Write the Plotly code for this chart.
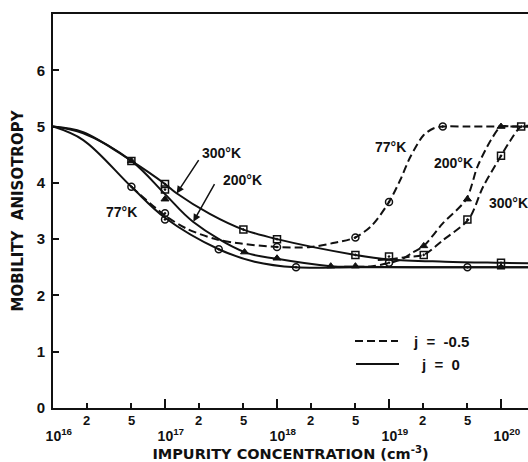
import math
import plotly.graph_objects as go

# ---- data (log10 of impurity concentration, mobility anisotropy) ----
s77_logx = [16.0, 16.27, 16.7, 17.0, 17.48, 17.8, 18.17, 18.7, 19.7, 20.3]
s77_y    = [5.0, 4.76, 3.93, 3.38, 2.82, 2.60, 2.50, 2.50, 2.50, 2.50]
s200_logx = [16.0, 16.27, 16.7, 17.0, 17.25, 17.71, 18.0, 18.48, 18.7, 19.5, 20.3]
s200_y    = [5.0, 4.88, 4.39, 3.80, 3.31, 2.77, 2.65, 2.52, 2.51, 2.50, 2.50]
s300_logx = [16.0, 16.27, 16.7, 17.0, 17.1, 17.4, 17.7, 18.0, 18.7, 19.0, 19.5, 20.0, 20.3]
s300_y    = [5.0, 4.90, 4.39, 3.98, 3.82, 3.45, 3.17, 3.00, 2.72, 2.64, 2.60, 2.58, 2.57]

d77_logx = [16.7, 17.0, 17.2, 17.45, 17.64, 18.0, 18.3, 18.5, 18.7, 18.85, 19.0, 19.1, 19.19, 19.31, 19.4, 19.48, 19.7, 20.3]
d77_y    = [3.93, 3.42, 3.18, 3.00, 2.93, 2.86, 2.86, 2.93, 3.03, 3.25, 3.66, 4.05, 4.46, 4.85, 4.97, 5.0, 5.0, 5.0]
d200_logx = [18.6, 18.85, 19.1, 19.21, 19.31, 19.48, 19.69, 19.79, 19.91, 20.0, 20.1, 20.3]
d200_y    = [2.51, 2.52, 2.63, 2.76, 2.88, 3.28, 3.71, 4.29, 4.76, 5.0, 5.0, 5.0]
d300_logx = [18.9, 19.0, 19.15, 19.31, 19.48, 19.71, 19.84, 20.0, 20.08, 20.18, 20.3]
d300_y    = [2.63, 2.64, 2.68, 2.72, 2.98, 3.35, 3.93, 4.48, 4.74, 5.0, 5.0]

m77_logx = [16.7, 17.0, 17.0, 17.48, 18.0, 18.17, 18.7, 19.0, 19.0, 19.48, 19.7]
m77_y    = [3.93, 3.35, 3.46, 2.82, 2.86, 2.50, 3.03, 3.66, 2.58, 5.0, 2.50]
m200_logx = [16.7, 17.0, 17.71, 18.0, 18.48, 18.7, 19.31, 19.7, 20.0, 20.0]
m200_y    = [4.39, 3.71, 2.77, 2.66, 2.52, 2.52, 2.88, 3.71, 5.0, 2.50]
m300_logx = [16.7, 17.0, 17.0, 17.7, 18.0, 18.7, 19.0, 19.31, 19.7, 20.0, 20.0, 20.18]
m300_y    = [4.39, 3.98, 3.88, 3.17, 3.00, 2.72, 2.69, 2.72, 3.35, 4.48, 2.58, 5.0]

decades = [16, 17, 18, 19, 20]
minor_mult = [2, 5]
y_ticks = [0, 1, 2, 3, 4, 5, 6]

FONT = "Liberation Sans"
TFONT = "DejaVu Sans"
BLACK = "#111111"
NB = "\u00a0"

def X(v):
    return [10.0 ** float(a) for a in v]

fig = go.Figure()

for lx, yy in [(s77_logx, s77_y), (s200_logx, s200_y), (s300_logx, s300_y)]:
    fig.add_trace(go.Scatter(x=X(lx), y=yy, mode="lines",
                             line=dict(color=BLACK, width=2, shape="spline", smoothing=1.0),
                             showlegend=False, hoverinfo="skip"))
for lx, yy in [(d77_logx, d77_y), (d200_logx, d200_y), (d300_logx, d300_y)]:
    fig.add_trace(go.Scatter(x=X(lx), y=yy, mode="lines",
                             line=dict(color=BLACK, width=2, shape="spline", smoothing=0.8, dash="8px,4px"),
                             showlegend=False, hoverinfo="skip"))

fig.add_trace(go.Scatter(x=X(m77_logx), y=m77_y, mode="markers",
                         marker=dict(symbol="circle-open-dot", size=7, color=BLACK, line=dict(width=1.5, color=BLACK)),
                         showlegend=False))
fig.add_trace(go.Scatter(x=X(m200_logx), y=m200_y, mode="markers",
                         marker=dict(symbol="triangle-up", size=7, color=BLACK, line=dict(width=1, color=BLACK)),
                         showlegend=False))
fig.add_trace(go.Scatter(x=X(m300_logx), y=m300_y, mode="markers",
                         marker=dict(symbol="square-open-dot", size=7, color=BLACK, line=dict(width=1.5, color=BLACK)),
                         showlegend=False))

tickfont = dict(family=FONT, size=14, color=BLACK, weight="bold")
fig.update_xaxes(
    type="log", range=[16, 20.241],
    showline=True, linecolor=BLACK, linewidth=2, mirror=True,
    showgrid=False, zeroline=False,
    tickmode="array", tickvals=[10.0 ** d for d in decades],
    ticktext=[NB * 3 + "10<sup>%d</sup>" % d for d in decades],
    ticks="inside", ticklen=9, tickwidth=1.5, tickcolor=BLACK,
    tickfont=tickfont, ticklabelstandoff=14,
    minor=dict(tickvals=[m * 10.0 ** d for d in decades[:-1] for m in minor_mult],
               ticks="inside", ticklen=5, tickwidth=1.5, tickcolor=BLACK),
    title=dict(text="IMPURITY CONCENTRATION (cm<sup>-3</sup>)",
               font=dict(family=TFONT, size=14.5, color=BLACK, weight="bold"), standoff=5),
)
fig.update_yaxes(
    range=[0, 7], showline=True, linecolor=BLACK, linewidth=2, mirror=False,
    showgrid=False, zeroline=False,
    tickmode="array", tickvals=y_ticks,
    ticks="inside", ticklen=6, tickwidth=1.5, tickcolor=BLACK,
    tickfont=dict(family=FONT, size=15, color=BLACK, weight="bold"), ticklabelstandoff=3,
    title=dict(text="MOBILITY" + NB * 2 + "ANISOTROPY",
               font=dict(family=TFONT, size=15, color=BLACK, weight="bold"), standoff=9),
)

ann = []
# minor tick labels 2 and 5
for d in decades[:-1]:
    for m in minor_mult:
        ann.append(dict(x=d + math.log10(m), y=0, xref="x", yref="paper", text=str(m),
                        showarrow=False, yanchor="middle", yshift=-12,
                        font=dict(family=FONT, size=13, color=BLACK, weight="bold")))

lab_font = dict(family=FONT, size=14, color=BLACK, weight="bold")
labels = [
    ("300°K", 17.50, 4.53, "center"),
    ("200°K", 17.69, 4.05, "center"),
    ("77°K", 16.61, 3.48, "center"),
    ("77°K", 19.01, 4.64, "center"),
    ("200°K", 19.58, 4.35, "center"),
    ("300°K", 19.875, 3.64, "left"),
]
for t, lx, yv, xa in labels:
    ann.append(dict(x=lx, y=yv, xref="x", yref="y", text=t, showarrow=False,
                    xanchor=xa, yanchor="middle", font=lab_font))

# pointer arrows
ann.append(dict(x=17.104, y=3.81, xref="x", yref="y", text="", showarrow=True, ax=23, ay=-35,
                arrowhead=2, arrowsize=1, arrowwidth=1.5, arrowcolor=BLACK))
ann.append(dict(x=17.253, y=3.31, xref="x", yref="y", text="", showarrow=True, ax=22, ay=-39,
                arrowhead=2, arrowsize=1, arrowwidth=1.5, arrowcolor=BLACK))

# legend
leg_font = dict(family=FONT, size=15, color=BLACK, weight="bold")
ann.append(dict(x=(411 - 53) / 475, y=(408 - 341) / 394, xref="paper", yref="paper",
                text="j" + NB * 2 + "=" + NB * 2 + "-0.5",
                showarrow=False, xanchor="left", yanchor="middle", font=leg_font))
ann.append(dict(x=(419 - 53) / 475, y=(408 - 364) / 394, xref="paper", yref="paper",
                text="j" + NB * 2 + "=" + NB * 2 + "0",
                showarrow=False, xanchor="left", yanchor="middle", font=leg_font))
shapes = [
    dict(type="line", xref="paper", yref="paper", x0=(355 - 53) / 475, x1=(398 - 53) / 475,
         y0=(408 - 341) / 394, y1=(408 - 341) / 394, line=dict(color=BLACK, width=2, dash="8px,4px")),
    dict(type="line", xref="paper", yref="paper", x0=(356 - 53) / 475, x1=(399 - 53) / 475,
         y0=(408 - 364) / 394, y1=(408 - 364) / 394, line=dict(color=BLACK, width=2)),
]

fig.update_layout(
    width=528, height=462,
    margin=dict(l=53, r=0, t=14, b=54),
    paper_bgcolor="white", plot_bgcolor="white",
    annotations=ann, shapes=shapes, showlegend=False,
)

fig.write_html("out.html")
